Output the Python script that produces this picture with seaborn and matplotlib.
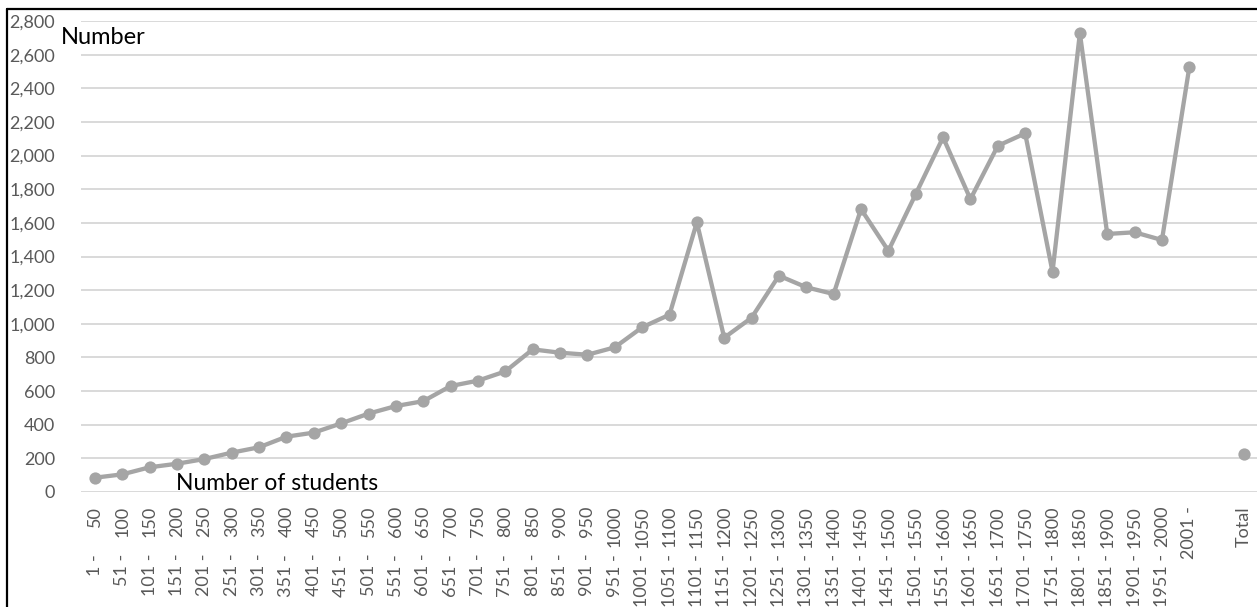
import numpy as np
import pandas as pd
import seaborn as sns
import matplotlib.pyplot as plt
from matplotlib.lines import Line2D
from matplotlib.ticker import FuncFormatter

# Enrolment-size bands and the number of schools in each band
bands = [
    "1 - 50", "51 - 100", "101 - 150", "151 - 200", "201 - 250", "251 - 300",
    "301 - 350", "351 - 400", "401 - 450", "451 - 500", "501 - 550", "551 - 600",
    "601 - 650", "651 - 700", "701 - 750", "751 - 800", "801 - 850", "851 - 900",
    "901 - 950", "951 - 1000", "1001 - 1050", "1051 - 1100", "1101 - 1150",
    "1151 - 1200", "1201 - 1250", "1251 - 1300", "1301 - 1350", "1351 - 1400",
    "1401 - 1450", "1451 - 1500", "1501 - 1550", "1551 - 1600", "1601 - 1650",
    "1651 - 1700", "1701 - 1750", "1751 - 1800", "1801 - 1850", "1851 - 1900",
    "1901 - 1950", "1951 - 2000", "2001 -",
]
counts = [
    85, 105, 147, 168, 196, 234, 266, 329, 353, 408, 466, 511,
    540, 630, 662, 717, 848, 828, 816, 860, 979, 1054, 1603,
    917, 1036, 1286, 1217, 1177, 1682, 1434, 1771, 2108, 1741,
    2058, 2132, 1309, 2727, 1534, 1544, 1498, 2525,
]
total_label = "Total"
total_value = 226

y_ticks = list(range(0, 2801, 200))

W, H = 1257, 607
GREY = "#A5A5A5"
TXT = "#595959"
GRID = "#D9D9D9"

sns.set_theme(style="white")
plt.rcParams["font.family"] = ["Lato", "DejaVu Sans"]

fig = plt.figure(figsize=(W / 100, H / 100), dpi=100)
ax = fig.add_axes([81.3 / W, 1 - 492 / H, (1257.7 - 81.3) / W, (492 - 21) / H])

df = pd.DataFrame({"pos": np.arange(len(bands)), "count": counts})
sns.lineplot(data=df, x="pos", y="count", ax=ax, color=GREY, linewidth=3.1,
             marker="o", markersize=8.8, markeredgewidth=0, zorder=3)

total_pos = len(bands) + 1
sns.scatterplot(x=[total_pos], y=[total_value], ax=ax, color=GREY, s=78,
                linewidth=0, zorder=3)

# Each band label is split in two: the upper bound sits against the axis,
# the "lower -" part is set further down so the dashes line up.
upper_txt, lower_txt = [], []
for b in bands:
    parts = b.split(" - ")
    if len(parts) == 2 and parts[1].strip():
        upper_txt.append(parts[1])
        lower_txt.append(parts[0] + " -")
    else:
        upper_txt.append(b)
        lower_txt.append("")
upper_txt += ["", total_label]
lower_txt += ["", ""]

positions = list(range(len(upper_txt)))
ax.xaxis.remove_overlapping_locs = False
ax.set_xticks(positions)
ax.set_xticklabels(upper_txt, rotation=90)
ax.set_xticks(positions, minor=True)
ax.set_xticklabels(lower_txt, minor=True, rotation=90)
ax.set_xlim(-0.5, len(upper_txt) - 0.5)

ax.set_ylim(0, 2800)
ax.set_yticks(y_ticks)
ax.yaxis.set_major_formatter(FuncFormatter(lambda v, p: f"{int(v):,}"))

ax.tick_params(axis="x", which="major", length=0, pad=10, labelsize=13,
               labelcolor=TXT)
ax.tick_params(axis="x", which="minor", length=0, pad=44.5, labelsize=13,
               labelcolor=TXT)
ax.tick_params(axis="y", length=0, pad=19, labelsize=13, labelcolor=TXT)
ax.yaxis.grid(True, color=GRID, linewidth=1.4)
ax.xaxis.grid(False, which="both")
ax.set_axisbelow(True)
for s in ax.spines.values():
    s.set_visible(False)
ax.set_xlabel("")
ax.set_ylabel("")

fig.text(61 / W, 1 - 37 / H, "Number", ha="left", va="center",
         fontsize=17, color="black")
fig.text(176 / W, 1 - 483 / H, "Number of students", ha="left", va="center",
         fontsize=16.5, color="black")

# outer frame (top and left edges)
fig.add_artist(Line2D([7 / W, 1.0], [1 - 8.5 / H, 1 - 8.5 / H],
                      transform=fig.transFigure, color="black", linewidth=1.6))
fig.add_artist(Line2D([7 / W, 7 / W], [0.0, 1 - 8.5 / H],
                      transform=fig.transFigure, color="black", linewidth=1.6))

fig.savefig("out.png", dpi=100)
